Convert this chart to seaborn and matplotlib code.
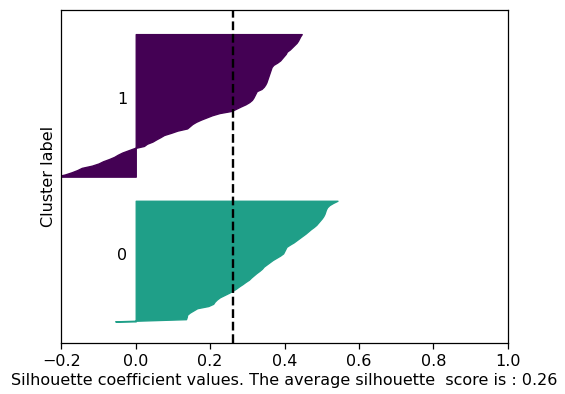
import matplotlib
matplotlib.use("Agg")
import matplotlib.pyplot as plt
import seaborn as sns
import numpy as np

# silhouette values per cluster, sorted ascending
cluster_labels = [0, 1]
sil_cluster0 = [
    -0.055, 0.135, 0.137, 0.138, 0.145, 0.155, 0.165, 0.195, 0.208, 0.212,
    0.218, 0.226, 0.238, 0.250, 0.261, 0.270, 0.278, 0.287, 0.295, 0.304,
    0.310, 0.317, 0.324, 0.332, 0.339, 0.344, 0.352, 0.360, 0.368, 0.378,
    0.388, 0.396, 0.399, 0.402, 0.405, 0.414, 0.424, 0.432, 0.440, 0.448,
    0.456, 0.463, 0.470, 0.478, 0.485, 0.490, 0.495, 0.500, 0.504, 0.507,
    0.509, 0.511, 0.514, 0.520, 0.530, 0.542,
]
sil_cluster1 = [
    -0.215, -0.190, -0.172, -0.157, -0.145, -0.118, -0.100, -0.088, -0.072, -0.058,
    -0.048, -0.036, -0.020, -0.004, 0.022, 0.030, 0.045, 0.055, 0.066, 0.076,
    0.095, 0.112, 0.138, 0.145, 0.152, 0.162, 0.175, 0.190, 0.205, 0.225,
    0.258, 0.270, 0.282, 0.295, 0.305, 0.312, 0.316, 0.319, 0.322, 0.325,
    0.338, 0.344, 0.348, 0.351, 0.353, 0.355, 0.357, 0.359, 0.361, 0.363,
    0.365, 0.370, 0.380, 0.388, 0.393, 0.398, 0.403, 0.406, 0.414, 0.420,
    0.426, 0.432, 0.436, 0.439, 0.442, 0.446,
]
avg_score = 0.26
xticks = [-0.2, 0.0, 0.2, 0.4, 0.6, 0.8, 1.0]

values = [sil_cluster0, sil_cluster1]
cmap = sns.color_palette("viridis", as_cmap=True)
colors = [cmap(0.56), cmap(0.0)]

# the reference looks like a slightly enlarged screenshot, so bump sizes a bit
plt.rcParams.update({
    "font.size": 11.5,
    "axes.linewidth": 0.9,
    "xtick.major.size": 4,
    "xtick.major.width": 0.9,
})

fig = plt.figure(figsize=(5.65, 3.94), dpi=100)
ax = fig.add_axes([0.1085, 0.1287, 0.7905, 0.8459])

n_total = sum(len(v) for v in values)
y_lower = 10
for i, vals in zip(cluster_labels, values):
    vals = np.array(vals)
    size = len(vals)
    y_upper = y_lower + size
    ax.fill_betweenx(np.arange(y_lower, y_upper), 0, vals,
                     facecolor=colors[i], edgecolor=colors[i])
    ax.text(-0.05, y_lower + 0.5 * size, str(i))
    y_lower = y_upper + 10

ax.axvline(x=avg_score, color="black", linestyle="--", linewidth=1.7)

ax.set_xlim(-0.2, 1.0)
ax.set_ylim(0, n_total + (len(values) + 1) * 10)
ax.set_xticks(xticks)
ax.set_yticks([])
ax.set_xlabel("Silhouette coefficient values. The average silhouette  score is : 0.26",
              labelpad=3)
ax.set_ylabel("Cluster label")

fig.savefig("out.png", dpi=100)
